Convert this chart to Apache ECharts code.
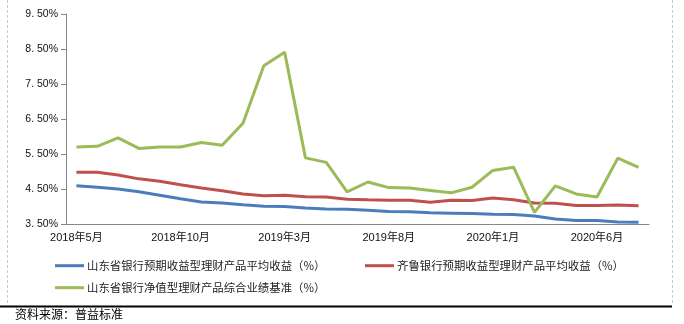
<!DOCTYPE html>
<html>
<head>
<meta charset="utf-8">
<script src="https://cdn.jsdelivr.net/npm/echarts@6/dist/echarts.min.js"></script>
<style>
  html, body { margin: 0; padding: 0; background: #fff; }
  #chart { width: 684px; height: 324px; }
</style>
</head>
<body>
<div id="chart"></div>
<script>
// Monthly observations, May 2018 – Aug 2020
const months = [
  '2018年5月','2018年6月','2018年7月','2018年8月','2018年9月','2018年10月','2018年11月','2018年12月',
  '2019年1月','2019年2月','2019年3月','2019年4月','2019年5月','2019年6月','2019年7月','2019年8月',
  '2019年9月','2019年10月','2019年11月','2019年12月','2020年1月','2020年2月','2020年3月','2020年4月',
  '2020年5月','2020年6月','2020年7月','2020年8月'
];

// 山东省银行预期收益型理财产品平均收益（%）
const shandongExpected = [4.59,4.55,4.50,4.42,4.32,4.22,4.13,4.10,4.05,4.01,4.00,3.96,3.93,3.92,
  3.89,3.86,3.85,3.82,3.81,3.80,3.78,3.77,3.73,3.64,3.60,3.60,3.56,3.55];

// 齐鲁银行预期收益型理财产品平均收益（%）
const qiluExpected = [4.98,4.98,4.90,4.79,4.72,4.62,4.53,4.45,4.36,4.31,4.32,4.28,4.27,4.21,
  4.19,4.18,4.18,4.12,4.18,4.17,4.24,4.19,4.10,4.09,4.03,4.03,4.04,4.02];

// 山东省银行净值型理财产品综合业绩基准（%）
const shandongNetValue = [5.70,5.72,5.96,5.66,5.70,5.70,5.83,5.75,6.38,8.02,8.41,5.39,5.26,4.42,
  4.70,4.54,4.53,4.46,4.39,4.55,5.03,5.12,3.83,4.59,4.36,4.27,5.38,5.12];

// Y-axis tick values
const yTicks = [3.5, 4.5, 5.5, 6.5, 7.5, 8.5, 9.5];

const seriesNames = [
  '山东省银行预期收益型理财产品平均收益（%）',
  '齐鲁银行预期收益型理财产品平均收益（%）',
  '山东省银行净值型理财产品综合业绩基准（%）'
];
const colors = ['#4a7ebb', '#c0504d', '#9bbb59'];

const axisColor = '#868686';
const cjkFont = '"Liberation Sans", "Noto Sans CJK SC", sans-serif';

const legendBase = {
  icon: 'rect',
  itemWidth: 29,
  itemHeight: 3,
  itemGap: 0,
  textStyle: { fontFamily: '"Noto Sans CJK SC", sans-serif', fontSize: 11.4, color: '#222', padding: [0, 0, 0, -2] }
};

const chart = echarts.init(document.getElementById('chart'), null, { renderer: 'canvas' });
chart.setOption({
  animation: false,
  backgroundColor: '#fff',
  color: colors,
  grid: { left: 66, right: 35, top: 14, bottom: 100, containLabel: false },
  legend: [
    Object.assign({ data: [seriesNames[0]], left: 50, top: 255 }, legendBase),
    Object.assign({ data: [seriesNames[1]], left: 360, top: 255 }, legendBase),
    Object.assign({ data: [seriesNames[2]], left: 50, top: 277 }, legendBase)
  ],
  xAxis: {
    type: 'category',
    data: months,
    boundaryGap: true,
    axisLine: { lineStyle: { color: axisColor, width: 1 } },
    axisTick: { interval: 4, length: 4, lineStyle: { color: axisColor } },
    axisLabel: { interval: 4, fontFamily: cjkFont, fontSize: 11, color: '#111', margin: 8 }
  },
  yAxis: {
    type: 'value',
    min: 3.5,
    max: 9.5,
    axisLine: { show: true, lineStyle: { color: axisColor, width: 1 } },
    axisTick: { show: true, length: 5, customValues: yTicks, lineStyle: { color: axisColor } },
    splitLine: { show: false },
    axisLabel: {
      customValues: yTicks,
      fontFamily: '"Liberation Sans", sans-serif',
      fontSize: 10.5,
      color: '#111',
      margin: 8,
      formatter: v => v.toFixed(2).replace('.', '. ') + '%'
    }
  },
  series: [
    { name: seriesNames[0], type: 'line', data: shandongExpected, symbol: 'none', lineStyle: { width: 3 } },
    { name: seriesNames[1], type: 'line', data: qiluExpected, symbol: 'none', lineStyle: { width: 3 } },
    { name: seriesNames[2], type: 'line', data: shandongNetValue, symbol: 'none', lineStyle: { width: 3 } }
  ],
  graphic: [
    { type: 'line', shape: { x1: 7.5, y1: 0, x2: 7.5, y2: 305 },
      style: { stroke: '#c8c8c8', lineWidth: 1, lineDash: [3, 2] }, silent: true },
    { type: 'line', shape: { x1: 672.5, y1: 0, x2: 672.5, y2: 305 },
      style: { stroke: '#c8c8c8', lineWidth: 1, lineDash: [3, 2] }, silent: true },
    { type: 'line', shape: { x1: 0, y1: 306.5, x2: 672, y2: 306.5 },
      style: { stroke: '#000', lineWidth: 2 }, silent: true },
    { type: 'text', left: 15, top: 308,
      style: { text: '资料来源：普益标准', fill: '#000', font: '12px "Noto Sans CJK SC", sans-serif' }, silent: true }
  ]
});
</script>
</body>
</html>
